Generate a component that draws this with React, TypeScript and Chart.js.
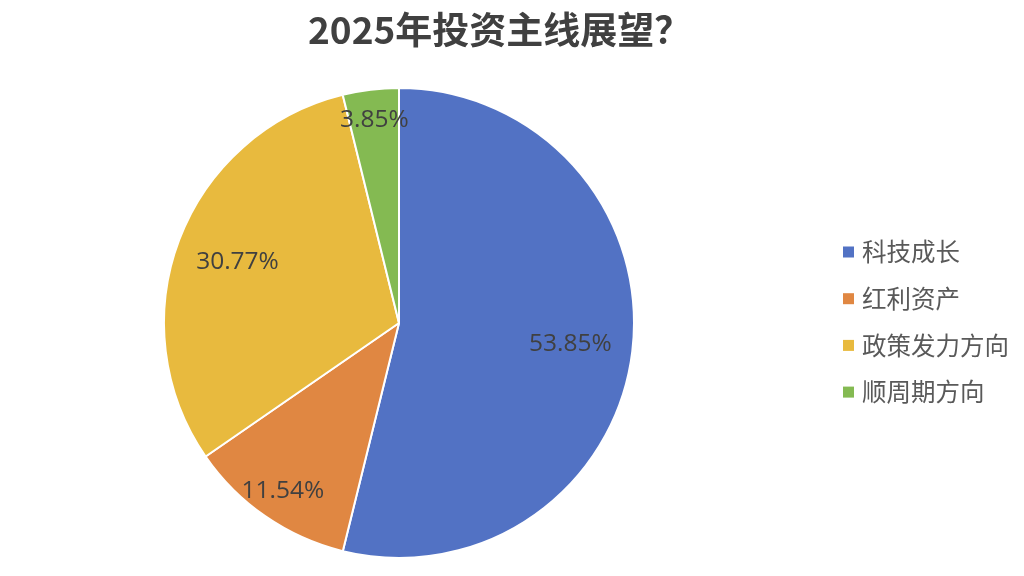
import React, { useEffect, useRef } from "react";
import { Chart, registerables } from "chart.js";

Chart.register(...registerables);

const TITLE = "2025年投资主线展望？";
const categories = ["科技成长", "红利资产", "政策发力方向", "顺周期方向"];
const shares = [53.85, 11.54, 30.77, 3.85];
const colors = ["#5272C4", "#E08742", "#E8BA3E", "#84BA52"];

const titlePlugin = {
  id: "customTitle",
  afterDraw(chart: any) {
    const ctx = chart.ctx;
    ctx.save();
    ctx.font = 'bold 37px "Noto Sans CJK SC", sans-serif';
    ctx.fillStyle = "#404040";
    ctx.textAlign = "left";
    ctx.textBaseline = "middle";
    ctx.fillText(TITLE, 308, 30);
    ctx.restore();
  },
};

const labelPlugin = {
  id: "sliceLabels",
  afterDatasetsDraw(chart: any) {
    const ctx = chart.ctx;
    const meta = chart.getDatasetMeta(0);
    const ds = chart.data.datasets[0];
    ctx.save();
    ctx.font = '24.5px "Open Sans", sans-serif';
    ctx.fillStyle = "#404040";
    ctx.textAlign = "center";
    ctx.textBaseline = "middle";
    meta.data.forEach((arc: any, i: number) => {
      const p = arc.getProps(["x", "y", "startAngle", "endAngle", "outerRadius"], true);
      const mid = (p.startAngle + p.endAngle) / 2;
      const v = ds.data[i] as number;
      const f = v < 15 ? 0.87 : 0.735;
      const r = p.outerRadius * f;
      ctx.fillText(v.toFixed(2) + "%", p.x + Math.cos(mid) * r, p.y + Math.sin(mid) * r);
    });
    ctx.restore();
  },
};

const legendPlugin = {
  id: "customLegend",
  afterDraw(chart: any) {
    const ctx = chart.ctx;
    const labels = chart.data.labels as string[];
    const bg = chart.data.datasets[0].backgroundColor as string[];
    ctx.save();
    ctx.font = '24.5px "Noto Sans CJK SC", sans-serif';
    ctx.textAlign = "left";
    ctx.textBaseline = "middle";
    const x0 = 843;
    const y0 = 252;
    const step = 46.7;
    labels.forEach((lab, i) => {
      const y = y0 + i * step;
      ctx.fillStyle = bg[i];
      ctx.fillRect(x0, y - 5.5, 11, 11);
      ctx.fillStyle = "#595959";
      ctx.fillText(lab, x0 + 19, y);
    });
    ctx.restore();
  },
};

export default function App() {
  const ref = useRef<HTMLCanvasElement>(null);
  useEffect(() => {
    if (!ref.current) return;
    const chart = new Chart(ref.current, {
      type: "pie",
      data: {
        labels: categories,
        datasets: [
          {
            data: shares,
            backgroundColor: colors,
            borderColor: "#FFFFFF",
            borderWidth: 2,
          },
        ],
      },
      options: {
        animation: false,
        responsive: false,
        maintainAspectRatio: false,
        layout: { padding: { left: 163, right: 389, top: 87, bottom: 17 } },
        plugins: {
          legend: { display: false },
          title: { display: false },
          tooltip: { enabled: false },
        },
      },
      plugins: [titlePlugin, labelPlugin, legendPlugin],
    });
    return () => chart.destroy();
  }, []);
  return (
    <div style={{ position: "absolute", left: 0, top: 0, width: 1024, height: 576, background: "#fff" }}>
      <canvas ref={ref} width={1024} height={576} style={{ width: 1024, height: 576 }} />
    </div>
  );
}
